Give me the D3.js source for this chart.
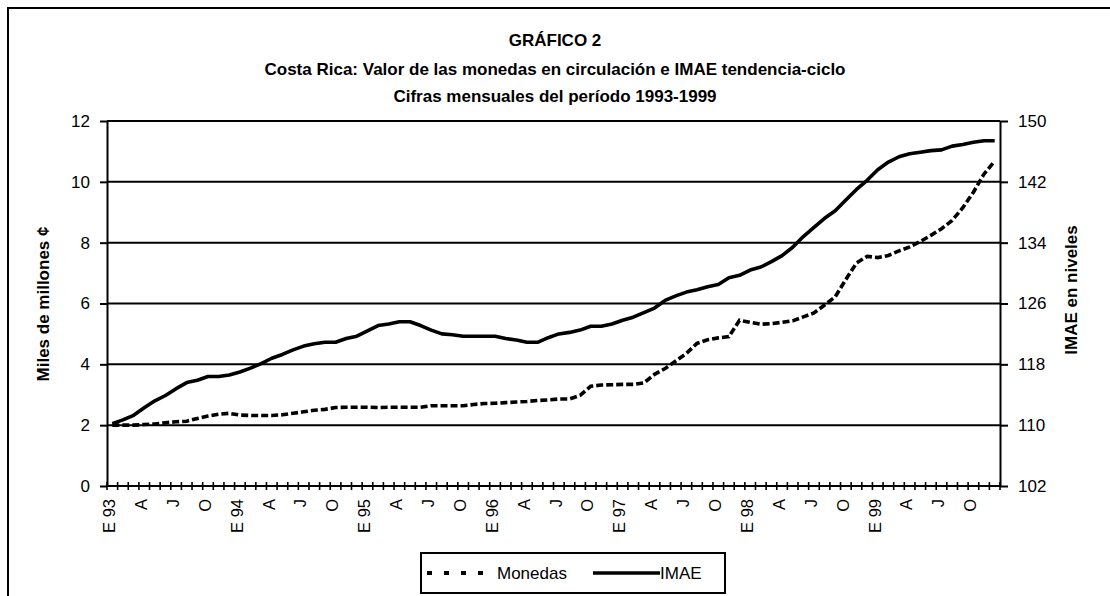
<!DOCTYPE html>
<html>
<head>
<meta charset="utf-8">
<script src="https://cdn.jsdelivr.net/npm/d3@7"></script>
<style>
  body { margin: 0; background: #fff; }
  svg { font-family: "Liberation Sans", Arial, sans-serif; }
</style>
</head>
<body>
<svg id="chart" width="1110" height="596"></svg>
<script>
// month letters and years used for the category labels
const monthLetters = ["E", "F", "M", "A", "M", "J", "J", "A", "S", "O", "N", "D"];
const years = ["93", "94", "95", "96", "97", "98", "99"];

// Monedas en circulación, miles de millones de colones (left axis)
const monedas = [
  2.00, 2.00, 2.00, 2.02, 2.04, 2.08, 2.11, 2.13, 2.22, 2.30, 2.36, 2.39,
  2.33, 2.32, 2.32, 2.32, 2.34, 2.39, 2.44, 2.49, 2.52, 2.58, 2.59, 2.59,
  2.59, 2.58, 2.59, 2.59, 2.59, 2.59, 2.64, 2.64, 2.64, 2.64, 2.68, 2.71,
  2.72, 2.74, 2.76, 2.78, 2.81, 2.83, 2.86, 2.86, 2.98, 3.28, 3.32, 3.33,
  3.34, 3.34, 3.39, 3.67, 3.86, 4.11, 4.36, 4.69, 4.81, 4.87, 4.91, 5.45,
  5.38, 5.32, 5.34, 5.38, 5.43, 5.56, 5.69, 5.95, 6.22, 6.79, 7.33, 7.55,
  7.51, 7.58, 7.73, 7.86, 8.04, 8.24, 8.46, 8.73, 9.15, 9.66, 10.26, 10.68
];

// IMAE tendencia-ciclo, niveles (right axis)
const imae = [
  110.2, 110.7, 111.3, 112.3, 113.2, 113.9, 114.8, 115.6, 115.9, 116.4, 116.4, 116.6,
  117.0, 117.5, 118.1, 118.8, 119.3, 119.9, 120.4, 120.7, 120.9, 120.9, 121.4, 121.7,
  122.4, 123.1, 123.3, 123.6, 123.6, 123.1, 122.5, 122.0, 121.9, 121.7, 121.7, 121.7,
  121.7, 121.4, 121.2, 120.9, 120.9, 121.5, 122.0, 122.2, 122.5, 123.0, 123.0, 123.3,
  123.8, 124.2, 124.8, 125.4, 126.4, 127.0, 127.5, 127.8, 128.2, 128.5, 129.4, 129.7,
  130.4, 130.8, 131.5, 132.3, 133.4, 134.8, 136.0, 137.2, 138.2, 139.6, 141.0, 142.2,
  143.6, 144.6, 145.3, 145.7, 145.9, 146.1, 146.2, 146.7, 146.9, 147.2, 147.4, 147.4
];

const leftTicks = [0, 2, 4, 6, 8, 10, 12];
const rightTicks = [102, 110, 118, 126, 134, 142, 150];

// build category labels: "E 93" for January, single letters otherwise
const categories = [];
years.forEach(yr => monthLetters.forEach((m, j) => {
  categories.push(j === 0 ? m + " " + yr : m);
}));

const svg = d3.select("#chart");
const margin = { top: 121, left: 107 };
const plotRight = 1000, plotBottom = 486;

// outer frame
svg.append("rect")
    .attr("x", 8).attr("y", 8)
    .attr("width", 1110).attr("height", 600)
    .attr("fill", "none").attr("stroke", "#000").attr("stroke-width", 2);

// titles
const titles = [
  "GRÁFICO 2",
  "Costa Rica: Valor de las monedas en circulación e IMAE tendencia-ciclo",
  "Cifras mensuales del período 1993-1999"
];
svg.append("g")
    .selectAll("text")
    .data(titles)
    .join("text")
    .attr("x", 555)
    .attr("y", (d, i) => [46, 75, 102][i])
    .attr("text-anchor", "middle")
    .style("font-size", "17px")
    .style("font-weight", "bold")
    .text(d => d);

// scales
const x = d3.scaleBand()
    .domain(d3.range(categories.length))
    .range([margin.left, plotRight]);
const cx = i => x(i) + x.bandwidth() / 2;

const yLeft = d3.scaleLinear().domain([0, 12]).range([plotBottom, margin.top]);
const yRight = d3.scaleLinear().domain([102, 150]).range([plotBottom, margin.top]);

// gridlines
svg.append("g")
    .selectAll("line")
    .data(leftTicks.slice(1))
    .join("line")
    .attr("x1", margin.left).attr("x2", plotRight)
    .attr("y1", d => yLeft(d)).attr("y2", d => yLeft(d))
    .attr("stroke", "#000").attr("stroke-width", 2);

// left axis
const leftAxis = svg.append("g")
    .attr("transform", `translate(${margin.left},0)`)
    .call(d3.axisLeft(yLeft).tickValues(leftTicks).tickSize(7).tickPadding(10).tickSizeOuter(0));

// right axis
const rightAxis = svg.append("g")
    .attr("transform", `translate(${plotRight},0)`)
    .call(d3.axisRight(yRight).tickValues(rightTicks).tickSize(8).tickPadding(10).tickSizeOuter(0));

[leftAxis, rightAxis].forEach(ax => {
  ax.select(".domain").attr("stroke", "#000").attr("stroke-width", 2);
  ax.selectAll(".tick line").attr("stroke", "#000").attr("stroke-width", 2);
  ax.selectAll(".tick text")
      .attr("fill", "#000")
      .style("font-size", "17px")
      .style("font-family", "'Liberation Sans', Arial, sans-serif");
});

// bottom axis line
svg.append("line")
    .attr("x1", margin.left).attr("x2", plotRight)
    .attr("y1", plotBottom).attr("y2", plotBottom)
    .attr("stroke", "#000").attr("stroke-width", 2);

// cross ticks at category boundaries
const boundaries = d3.range(categories.length + 1);
svg.append("g")
    .selectAll("line")
    .data(boundaries)
    .join("line")
    .attr("x1", d => d < categories.length ? x(d) : plotRight)
    .attr("x2", d => d < categories.length ? x(d) : plotRight)
    .attr("y1", plotBottom - 4).attr("y2", plotBottom + 4)
    .attr("stroke", "#000").attr("stroke-width", 1.6);

// category labels every third month
svg.append("g")
    .selectAll("text")
    .data(categories.map((c, i) => ({ c, i })).filter(d => d.i % 3 === 0))
    .join("text")
    .attr("transform", d => `translate(${cx(d.i) - 3},499) rotate(-90)`)
    .attr("dy", "0.35em")
    .attr("text-anchor", "end")
    .style("font-size", "16.5px")
    .text(d => d.c);

// axis titles
svg.append("text")
    .attr("transform", `translate(43,304) rotate(-90)`)
    .attr("dy", "0.35em")
    .attr("text-anchor", "middle")
    .style("font-size", "17px")
    .style("font-weight", "bold")
    .text("Miles de millones ¢");

svg.append("text")
    .attr("transform", `translate(1071,290) rotate(-90)`)
    .attr("dy", "0.35em")
    .attr("text-anchor", "middle")
    .style("font-size", "17px")
    .style("font-weight", "bold")
    .text("IMAE en niveles");

// lines
const monedasLine = d3.line()
    .x((d, i) => cx(i))
    .y(d => yLeft(d));

const imaeLine = d3.line()
    .x((d, i) => cx(i))
    .y(d => yRight(d));

svg.append("path")
    .attr("d", monedasLine(monedas))
    .attr("fill", "none")
    .attr("stroke", "#000")
    .attr("stroke-width", 3.6)
    .attr("stroke-dasharray", "7,3");

svg.append("path")
    .attr("d", imaeLine(imae))
    .attr("fill", "none")
    .attr("stroke", "#000")
    .attr("stroke-width", 3.6)
    .attr("stroke-linejoin", "round");

// legend
const legend = svg.append("g");
legend.append("rect")
    .attr("x", 421).attr("y", 553)
    .attr("width", 304).attr("height", 40)
    .attr("fill", "#fff").attr("stroke", "#000").attr("stroke-width", 2);

legend.append("line")
    .attr("x1", 427).attr("x2", 490).attr("y1", 573).attr("y2", 573)
    .attr("stroke", "#000").attr("stroke-width", 4)
    .attr("stroke-dasharray", "5,12");
legend.append("text")
    .attr("x", 497).attr("y", 573).attr("dy", "0.35em")
    .style("font-size", "17px")
    .text("Monedas");

legend.append("line")
    .attr("x1", 593).attr("x2", 660).attr("y1", 573).attr("y2", 573)
    .attr("stroke", "#000").attr("stroke-width", 3.6);
legend.append("text")
    .attr("x", 660).attr("y", 573).attr("dy", "0.35em")
    .style("font-size", "17px")
    .text("IMAE");
</script>
</body>
</html>
